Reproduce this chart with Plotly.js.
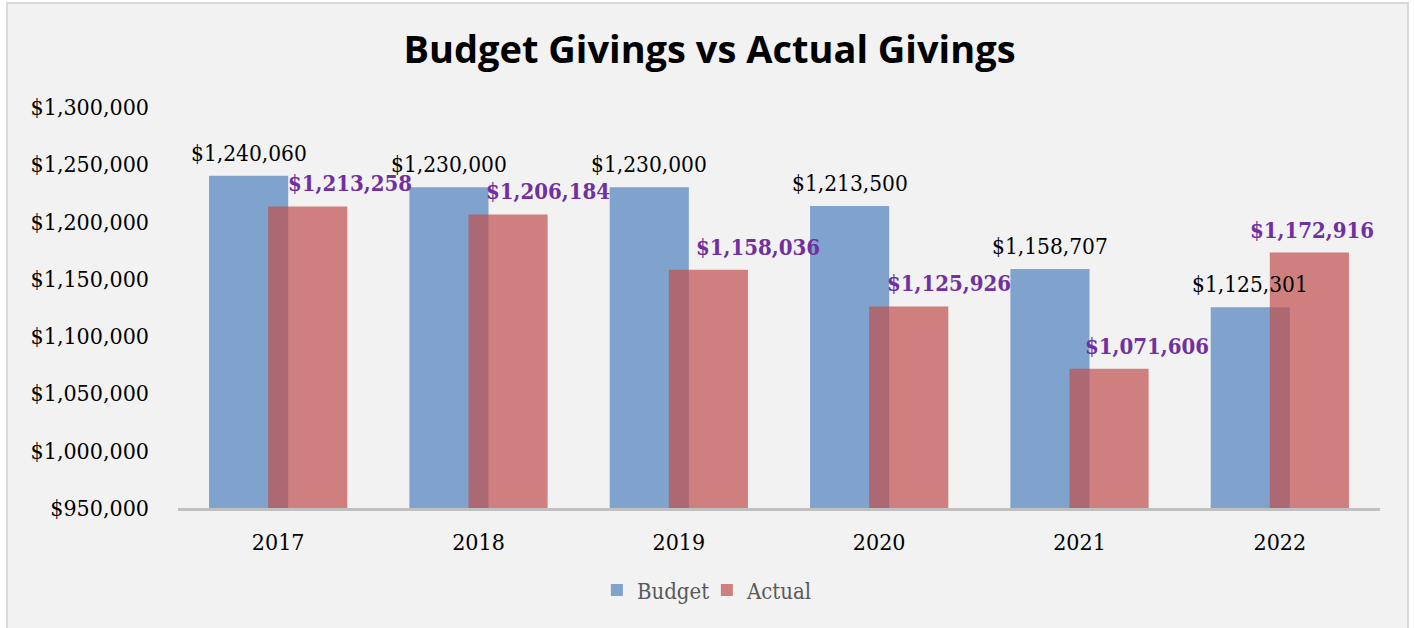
<!DOCTYPE html>
<html>
<head>
<meta charset="utf-8">
<script src="https://cdn.plot.ly/plotly-3.0.1.min.js"></script>
<style>
  html, body { margin: 0; padding: 0; background: #ffffff; overflow: hidden; width: 1415px; height: 628px; }
  #frame { position: absolute; left: 6px; top: 2px; width: 1403px; height: 630px; border: 2px solid #d9d9d9; box-sizing: border-box; background: #f2f2f2; }
  #chart { width: 1399px; height: 626px; }
</style>
</head>
<body>
<div id="frame"><div id="chart"></div></div>
<script>
// ---- data ----
const years = ["2017", "2018", "2019", "2020", "2021", "2022"];
const budget = [1240060, 1230000, 1230000, 1213500, 1158707, 1125301];
const actual = [1213258, 1206184, 1158036, 1125926, 1071606, 1172916];
const yTickValues = [950000, 1000000, 1050000, 1100000, 1150000, 1200000, 1250000, 1300000];

// ---- styling / placement (not data) ----
const serif = '"DejaVu Serif Condensed", "DejaVu Serif", serif';
const barW = 0.395;
const budgetOffset = -0.345;
const actualOffset = -0.05;
const actualLabelShift = [42, 40, 50, 40, 38, 3];

function money(v) { return '$' + v.toLocaleString('en-US'); }

const traces = [
  {
    type: 'bar', name: 'Budget', x: years, y: budget,
    width: barW, offset: budgetOffset,
    marker: { color: 'rgba(79,129,189,0.7)', line: { width: 0 } },
    hoverinfo: 'none'
  },
  {
    type: 'bar', name: 'Actual', x: years, y: actual,
    width: barW, offset: actualOffset,
    marker: { color: 'rgba(192,80,77,0.7)', line: { width: 0 } },
    hoverinfo: 'none'
  }
];

const annotations = [];
years.forEach((yr, i) => {
  annotations.push({
    x: i + budgetOffset + barW / 2, y: budget[i], xref: 'x', yref: 'y',
    text: money(budget[i]), showarrow: false, yanchor: 'bottom', xanchor: 'center', yshift: 8,
    font: { family: serif, size: 22.5, color: '#000000' }
  });
  annotations.push({
    x: i + actualOffset + barW / 2, y: actual[i], xref: 'x', yref: 'y',
    text: '<b>' + money(actual[i]) + '</b>', showarrow: false, yanchor: 'bottom', xanchor: 'center', yshift: 8,
    xshift: actualLabelShift[i],
    font: { family: serif, size: 22, color: '#7030a0' }
  });
});

const layout = {
  width: 1399, height: 626,
  paper_bgcolor: '#f2f2f2', plot_bgcolor: '#f2f2f2',
  margin: { l: 170, r: 27, t: 103, b: 122 },
  barmode: 'overlay',
  showlegend: true,
  title: {
    text: '<b>Budget Givings vs Actual Givings</b>',
    font: { family: '"Open Sans", sans-serif', size: 38, color: '#000000' },
    x: 701.5 / 1399, xref: 'container', xanchor: 'center',
    y: 1 - 46 / 626, yref: 'container', yanchor: 'middle'
  },
  xaxis: {
    type: 'category', range: [-0.5, 5.5],
    showline: true, linecolor: '#c0c0c0', linewidth: 3,
    showgrid: false, zeroline: false, ticks: '',
    ticklabelstandoff: 11,
    tickfont: { family: serif, size: 23, color: '#000000' }
  },
  yaxis: {
    range: [950000, 1300000], tickvals: yTickValues, tickformat: '$,.0f',
    showline: false, showgrid: false, zeroline: false, ticks: '',
    ticklabelstandoff: 28,
    tickfont: { family: serif, size: 23, color: '#000000' }
  },
  legend: {
    orientation: 'h', x: 0.44, xanchor: 'center', y: -0.205, yanchor: 'middle',
    font: { family: serif, size: 22, color: '#595959' },
    bgcolor: 'rgba(0,0,0,0)', itemwidth: 30, tracegroupgap: 0, entrywidth: 65
  },
  annotations: annotations
};

Plotly.newPlot('chart', traces, layout, { staticPlot: true, displayModeBar: false });
</script>
</body>
</html>
